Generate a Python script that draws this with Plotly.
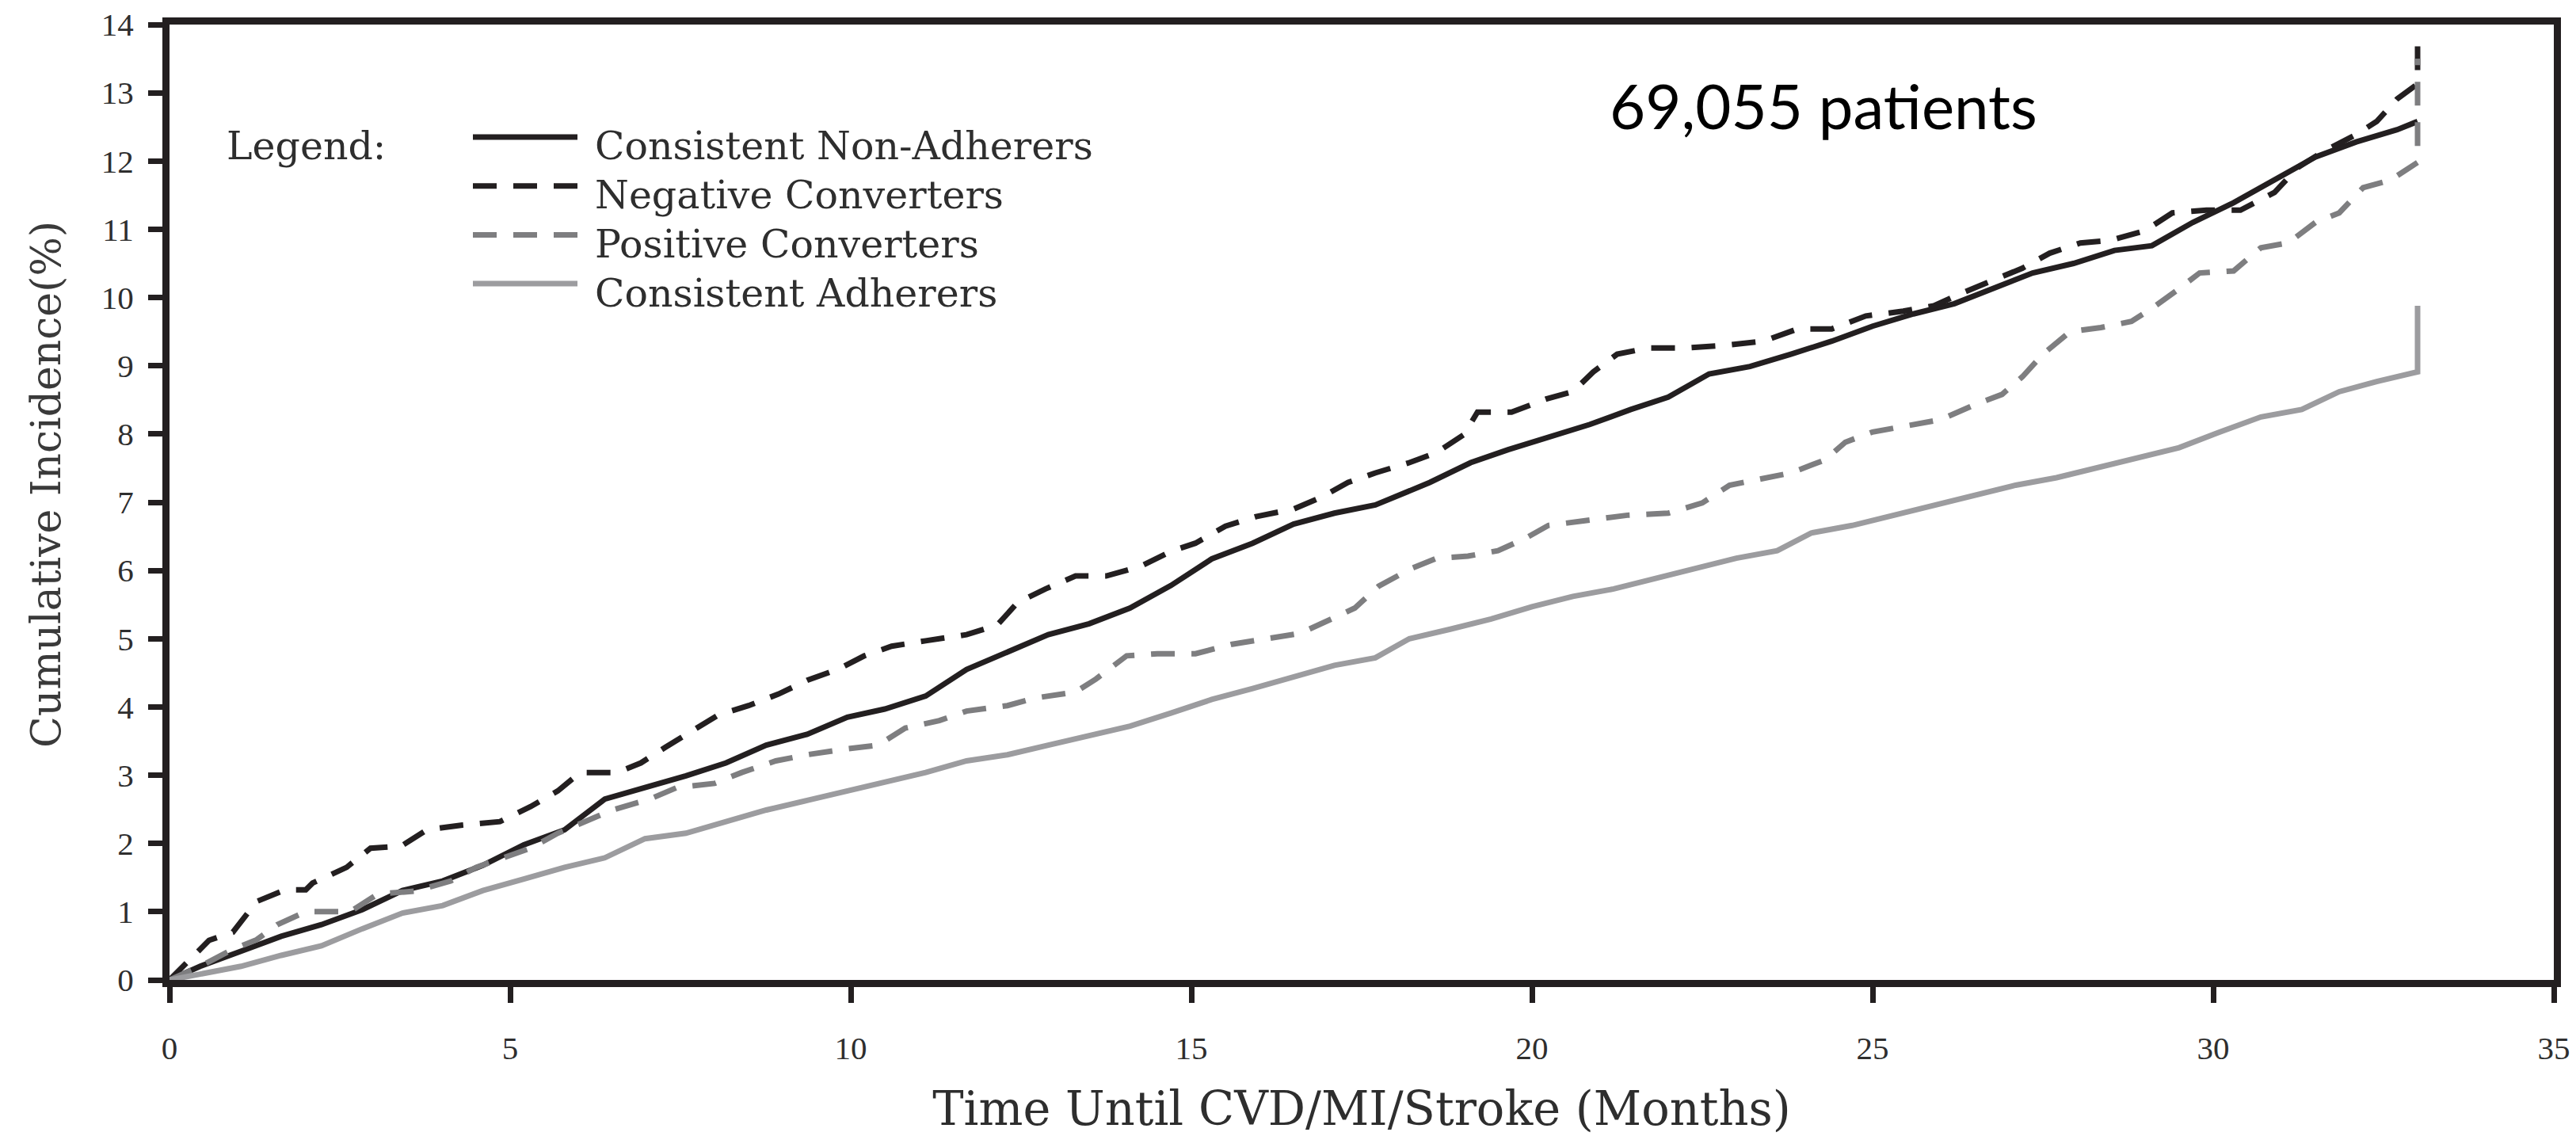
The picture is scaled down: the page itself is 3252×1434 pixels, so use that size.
import plotly.graph_objects as go

# ---------------- data ----------------
series_names = ["Consistent Non-Adherers", "Negative Converters",
                "Positive Converters", "Consistent Adherers"]

non_adh_t = [0, 0.45, 1.05, 1.64, 2.23, 2.83, 3.42, 4.01, 4.6, 5.2, 5.8, 6.39, 6.98, 7.58,
             8.17, 8.76, 9.36, 9.95, 10.5, 11.1, 11.7, 12.3, 12.9, 13.5, 14.1, 14.7, 15.3,
             15.9, 16.5, 17.1, 17.7, 18.5, 19.1, 19.65, 20.25, 20.85, 21.45, 22.0, 22.6,
             23.2, 23.8, 24.4, 25.0, 25.6, 26.2, 26.75, 27.35, 27.95, 28.55, 29.1, 29.7,
             30.3, 30.9, 31.5, 32.1, 32.7, 33.0]
non_adh_v = [0, 0.2, 0.42, 0.64, 0.81, 1.03, 1.31, 1.45, 1.68, 1.98, 2.2, 2.65, 2.82, 2.99,
             3.18, 3.44, 3.6, 3.85, 3.97, 4.16, 4.55, 4.8, 5.06, 5.22, 5.45, 5.78, 6.17,
             6.4, 6.68, 6.84, 6.96, 7.29, 7.58, 7.77, 7.95, 8.14, 8.36, 8.54, 8.88,
             8.99, 9.17, 9.36, 9.58, 9.76, 9.91, 10.13, 10.36, 10.5, 10.69, 10.76, 11.1,
             11.39, 11.72, 12.06, 12.28, 12.46, 12.58]

neg_t = [0, 0.3, 0.58, 0.93, 1.28, 1.7, 2.0, 2.1, 2.6, 2.95, 3.4, 3.78, 4.3, 4.85, 5.3, 5.7,
         6.03, 6.57, 6.92, 7.28, 7.7, 8.05, 8.5, 8.94, 9.36, 9.83, 10.2, 10.6, 11.1, 11.7,
         12.15, 12.45, 12.86, 13.3, 13.75, 14.25, 14.7, 15.06, 15.5, 15.95, 16.5, 16.9,
         17.3, 17.7, 18.2, 18.6, 19.0, 19.2, 19.7, 20.2, 20.6, 20.9, 21.25, 21.7, 22.25,
         22.85, 23.4, 23.9, 24.4, 24.9, 25.45, 25.9, 26.3, 26.75, 27.2, 27.6, 28.05, 28.5,
         29.0, 29.4, 29.9, 30.4, 30.9, 31.25, 31.6, 32.1, 32.4, 32.7, 33.0, 33.0]
neg_v = [0, 0.3, 0.58, 0.7, 1.15, 1.32, 1.32, 1.42, 1.65, 1.93, 1.96, 2.2, 2.27, 2.32, 2.54,
         2.77, 3.04, 3.04, 3.18, 3.41, 3.67, 3.88, 4.02, 4.19, 4.39, 4.56, 4.75, 4.89, 4.97,
         5.06, 5.2, 5.53, 5.73, 5.92, 5.92, 6.06, 6.28, 6.4, 6.65, 6.79, 6.9, 7.07, 7.29,
         7.43, 7.58, 7.73, 7.99, 8.32, 8.32, 8.51, 8.62, 8.91, 9.17, 9.26, 9.26, 9.3, 9.36,
         9.54, 9.54, 9.73, 9.8, 9.88, 10.06, 10.25, 10.43, 10.65, 10.8, 10.84, 10.98,
         11.24, 11.28, 11.28, 11.54, 11.91, 12.13, 12.39, 12.58, 12.91, 13.13, 13.75]

pos_t = [0, 0.45, 0.93, 1.28, 1.58, 2.0, 2.65, 3.06, 3.6, 4.13, 4.5, 4.9, 5.3, 5.7, 6.1,
         6.5, 7.05, 7.45, 8.0, 8.4, 8.9, 9.36, 9.9, 10.4, 10.8, 11.3, 11.7, 12.3, 12.7,
         13.3, 13.6, 14.05, 14.5, 15.06, 15.6, 16.1, 16.6, 17.1, 17.4, 17.75, 18.23, 18.6,
         19.06, 19.5, 19.9, 20.24, 20.8, 21.4, 22.0, 22.5, 22.9, 23.4, 23.8, 24.3, 24.6,
         25.0, 25.6, 26.0, 26.5, 26.9, 27.2, 27.5, 27.9, 28.35, 28.8, 29.1, 29.5, 29.8,
         30.3, 30.7, 31.1, 31.5, 31.85, 32.2, 32.6, 33.0, 33.0]
pos_v = [0, 0.2, 0.45, 0.59, 0.81, 1.0, 1.0, 1.26, 1.3, 1.45, 1.65, 1.79, 1.93, 2.15, 2.32,
         2.49, 2.65, 2.82, 2.88, 3.04, 3.21, 3.3, 3.38, 3.44, 3.69, 3.8, 3.94, 4.02, 4.13,
         4.22, 4.41, 4.75, 4.78, 4.78, 4.92, 5.0, 5.08, 5.31, 5.45, 5.77, 6.03, 6.18,
         6.21, 6.29, 6.47, 6.66, 6.73, 6.81, 6.84, 6.99, 7.25, 7.36, 7.43, 7.62, 7.88,
         8.03, 8.14, 8.21, 8.43, 8.58, 8.84, 9.17, 9.5, 9.56, 9.65, 9.84, 10.13, 10.36,
         10.39, 10.73, 10.8, 11.1, 11.24, 11.61, 11.72, 11.98, 13.5]

adh_t = [0, 0.45, 1.05, 1.64, 2.23, 2.83, 3.42, 4.01, 4.6, 5.2, 5.8, 6.39, 6.98, 7.58, 8.17,
         8.76, 9.36, 9.95, 10.5, 11.1, 11.7, 12.3, 12.9, 13.5, 14.1, 14.7, 15.3, 15.9, 16.5,
         17.1, 17.7, 18.2, 18.8, 19.4, 20.0, 20.6, 21.2, 21.8, 22.4, 23.0, 23.6, 24.1, 24.7,
         25.3, 25.9, 26.5, 27.1, 27.7, 28.3, 28.9, 29.5, 30.1, 30.7, 31.3, 31.85, 32.4,
         33.0, 33.0]
adh_v = [0, 0.08, 0.2, 0.36, 0.5, 0.75, 0.98, 1.09, 1.31, 1.48, 1.65, 1.79, 2.07, 2.15, 2.32,
         2.49, 2.63, 2.77, 2.91, 3.04, 3.21, 3.3, 3.44, 3.58, 3.72, 3.91, 4.11, 4.27, 4.44,
         4.61, 4.72, 5.0, 5.14, 5.29, 5.47, 5.62, 5.73, 5.88, 6.03, 6.18, 6.29, 6.55, 6.66,
         6.81, 6.95, 7.1, 7.25, 7.36, 7.51, 7.66, 7.8, 8.03, 8.25, 8.36, 8.62, 8.77,
         8.91, 9.88]

x_ticks = [0, 5, 10, 15, 20, 25, 30, 35]
y_ticks = list(range(0, 15))

# ---------------- styling ----------------
INK = "#231f20"
TXT = "#2e2e2e"
colors = [INK, INK, "#7e7e80", "#9c9c9f"]
dashes = ["solid", "30px,21px", "30px,21px", "solid"]
SERIF = "Liberation Serif, Times New Roman, serif"
WIDE_SERIF = "DejaVu Serif, serif"

W, H = 3252, 1434
ML, MR, MT, MB = 214, 28, 31, 197
PW, PH = W - ML - MR, H - MT - MB
XMAX, YMAX = 35, 14


def xd(px):  # page pixel -> data x
    return (px - ML) / PW * XMAX


def yd(py):  # page pixel -> data y
    return (H - MB - py) / PH * YMAX


fig = go.Figure()
data = [(non_adh_t, non_adh_v), (neg_t, neg_v), (pos_t, pos_v), (adh_t, adh_v)]
for name, (t, v), c, d in zip(series_names, data, colors, dashes):
    fig.add_trace(go.Scatter(x=t, y=v, mode="lines", name=name, showlegend=False,
                             line=dict(color=c, width=7, dash=d)))

# manual legend (drawn in the style of the reference)
LEG_FONT = dict(family=WIDE_SERIF, size=49, color=TXT)
ann = [dict(x=xd(284), y=yd(184), xref="x", yref="y", text="Legend:", showarrow=False,
            xanchor="left", yanchor="middle", font=LEG_FONT)]
shapes = []
for i, (name, c, d) in enumerate(zip(series_names, colors, dashes)):
    ly = 173 + 61.7 * i
    shapes.append(dict(type="line", xref="x", yref="y", x0=xd(597), x1=xd(729),
                       y0=yd(ly), y1=yd(ly), line=dict(color=c, width=7, dash=d)))
    ann.append(dict(x=xd(749), y=yd(184 + 62 * i), xref="x", yref="y", text=name,
                    showarrow=False, xanchor="left", yanchor="middle", font=LEG_FONT))

ann.append(dict(x=xd(2302), y=yd(133), xref="x", yref="y", text="69,055 patients",
                showarrow=False, xanchor="center", yanchor="middle",
                font=dict(family="Lato, Carlito, sans-serif", size=78, color="#000000")))

# y-axis title as a rotated annotation (slightly above the plot centre, as in the reference)
ann.append(dict(x=(58 - ML) / PW, y=(H - MB - 612) / PH, xref="paper", yref="paper",
                text="Cumulative Incidence(%)", showarrow=False, textangle=-90,
                xanchor="center", yanchor="middle",
                font=dict(family=WIDE_SERIF, size=52, color="#3a3a3a")))

fig.update_layout(
    width=W, height=H,
    margin=dict(l=ML, r=MR, t=MT, b=MB, pad=0, autoexpand=False),
    paper_bgcolor="white", plot_bgcolor="white",
    annotations=ann, shapes=shapes,
    xaxis=dict(range=[0, XMAX], tickvals=x_ticks, ticktext=[str(v) for v in x_ticks],
               showgrid=False, zeroline=False, showline=True, mirror=True,
               automargin=False,
               linecolor=INK, linewidth=9, ticks="outside", ticklen=20, tickwidth=7,
               tickcolor=INK, ticklabelstandoff=22,
               tickfont=dict(family=SERIF, size=41, color=TXT),
               title=dict(text="Time Until CVD/MI/Stroke (Months)", standoff=46,
                          font=dict(family=WIDE_SERIF, size=59, color=TXT))),
    yaxis=dict(range=[0, YMAX], tickvals=y_ticks, ticktext=[str(v) for v in y_ticks],
               showgrid=False, zeroline=False, showline=True, mirror=True,
               automargin=False,
               linecolor=INK, linewidth=9, ticks="outside", ticklen=18, tickwidth=7,
               tickcolor=INK, ticklabelstandoff=10,
               tickfont=dict(family=SERIF, size=41, color=TXT)),
)

fig.write_html("out.html")
